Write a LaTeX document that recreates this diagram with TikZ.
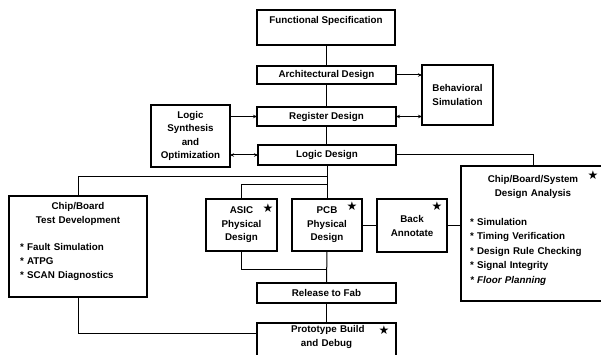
\documentclass[tikz,border=0pt]{standalone}
\usepackage{fontspec}
\setmainfont{Liberation Sans}
\newfontfamily\symfont{DejaVu Sans}
\usetikzlibrary{calc,arrows.meta}

\begin{document}
\begin{tikzpicture}[x=1pt,y=-1pt]
     \tikzstyle{box}=[draw, line width=1.3pt, outer sep=0pt, inner sep=2pt,
       font=\fontsize{9.8}{14}\selectfont\bfseries]
     \tikzstyle{wire}=[line width=1pt]
     \tikzstyle{feed}=[wire, -{Stealth[length=4pt,width=3.5pt]}]
     \tikzstyle{both}=[wire, {Stealth[length=4pt,width=3.5pt]}-{Stealth[length=4pt,width=3.5pt]}]
     \tikzstyle{star}=[inner sep=0pt, font=\symfont\fontsize{12}{12}\selectfont]

     \useasboundingbox (0,0) rectangle (601,355);
     \clip (0,0) rectangle (601,355);

     \node[box, minimum width=138pt, text height=11.5pt, text depth=19.5pt] (spec) at (326,27.5) {Functional Specification};
     \node[box, minimum width=139pt, minimum height=18pt] (arch) at (326.5,75) {Architectural Design};
     \node[box, minimum width=139pt, minimum height=19pt] (reg) at (326.5,116.5) {Register Design};
     \node[box, minimum width=138pt, minimum height=20pt] (logic) at (327,155) {Logic Design};
     \node[box, minimum width=71pt, minimum height=60pt, align=center] (beh) at (457.5,95) {Behavioral\\Simulation};
     \node[box, minimum width=79pt, minimum height=62pt, align=center,
       font=\fontsize{9.8}{13.5}\selectfont\bfseries] (synth) at (190.5,136) {Logic\\Synthesis\\and\\Optimization};

     \node[box, minimum width=71pt, minimum height=52pt, align=center,
       font=\fontsize{9.8}{13.5}\selectfont\bfseries] (asic) at (241.5,225) {ASIC\\Physical\\Design};
     \node[box, minimum width=70pt, minimum height=52pt, align=center,
       font=\fontsize{9.8}{13.5}\selectfont\bfseries] (pcb) at (327,225) {PCB\\Physical\\Design};
     \node[box, minimum width=70pt, minimum height=53pt, align=center] (back) at (412,225.5) {Back\\Annotate};

     \node[box, text width=116pt, inner xsep=11pt, minimum height=101pt] (test) at (78,246.5)
       {{\centering Chip/Board\\Test Development\par}\vspace{13pt}
        \raggedright * Fault Simulation\par * ATPG\par * SCAN Diagnostics\par\kern10.5pt};
     \node[box, text width=126pt, inner xsep=9pt, minimum height=135pt,
       font=\fontsize{9.8}{14.5}\selectfont\bfseries] (analysis) at (533,233.5)
       {{\centering Chip/Board/System\\Design Analysis\par}\vspace{14pt}
        \raggedright * Simulation\par * Timing Verification\par * Design Rule Checking\par
        * Signal Integrity\par {\itshape * Floor Planning}\par\kern6.5pt};

     \node[box, minimum width=139pt, minimum height=20pt] (release) at (326.5,293) {Release to Fab};
     \node[box, text width=135pt, inner xsep=2pt, minimum height=46pt, anchor=north] (proto) at (326.5,323)
       {\kern2.5pt{\centering Prototype Build\\and Debug\par}\kern17.5pt};

     \node[star] (asicstar) at ($(asic.north east)+(-9,9)$) {★};
     \node[star] (pcbstar) at ($(pcb.north east)+(-10,7)$) {★};
     \node[star] (backstar) at ($(back.north east)+(-10,7)$) {★};
     \node[star] (analysisstar) at ($(analysis.north east)+(-12,9)$) {★};
     \node[star] (protostar) at ($(proto.north east)+(-12,7)$) {★};

     \draw[wire] (spec.south) -- (spec.south |- arch.north);
     \draw[wire] (arch.south) -- (arch.south |- reg.north);
     \draw[wire] (reg.south) -- (reg.south |- logic.north);
     \draw[feed] (arch.east) -- (arch.east -| beh.west);
     \draw[both] (reg.east) -- (reg.east -| beh.west);
     \draw[feed] (reg.west -| synth.east) -- (reg.west);
     \draw[both] (logic.west -| synth.east) -- (logic.west);
     \draw[wire] (logic.east) -| (analysis.north);

     \coordinate (testfork) at ($(logic.south)+(0,12)$);
     \coordinate (asicfork) at ($(logic.south)+(0,20)$);
     \coordinate (fabjoin) at ($(pcb.south)+(0,18)$);
     \draw[wire] (logic.south) -- (pcb.north);
     \draw[wire] (testfork) -| (test.north);
     \draw[wire] (asicfork) -| (asic.north);
     \draw[wire] (asic.south) |- (fabjoin);
     \draw[wire] (pcb.south) -- (release.north);
     \draw[wire] (pcb.east) -- (pcb.east -| back.west);
     \draw[wire] (back.east) -- (back.east -| analysis.west);
     \draw[wire] (release.south) -- (proto.north);
     \draw[wire] (test.south) |- ($(proto.north west)+(0,10)$);
   \end{tikzpicture}
\end{document}
